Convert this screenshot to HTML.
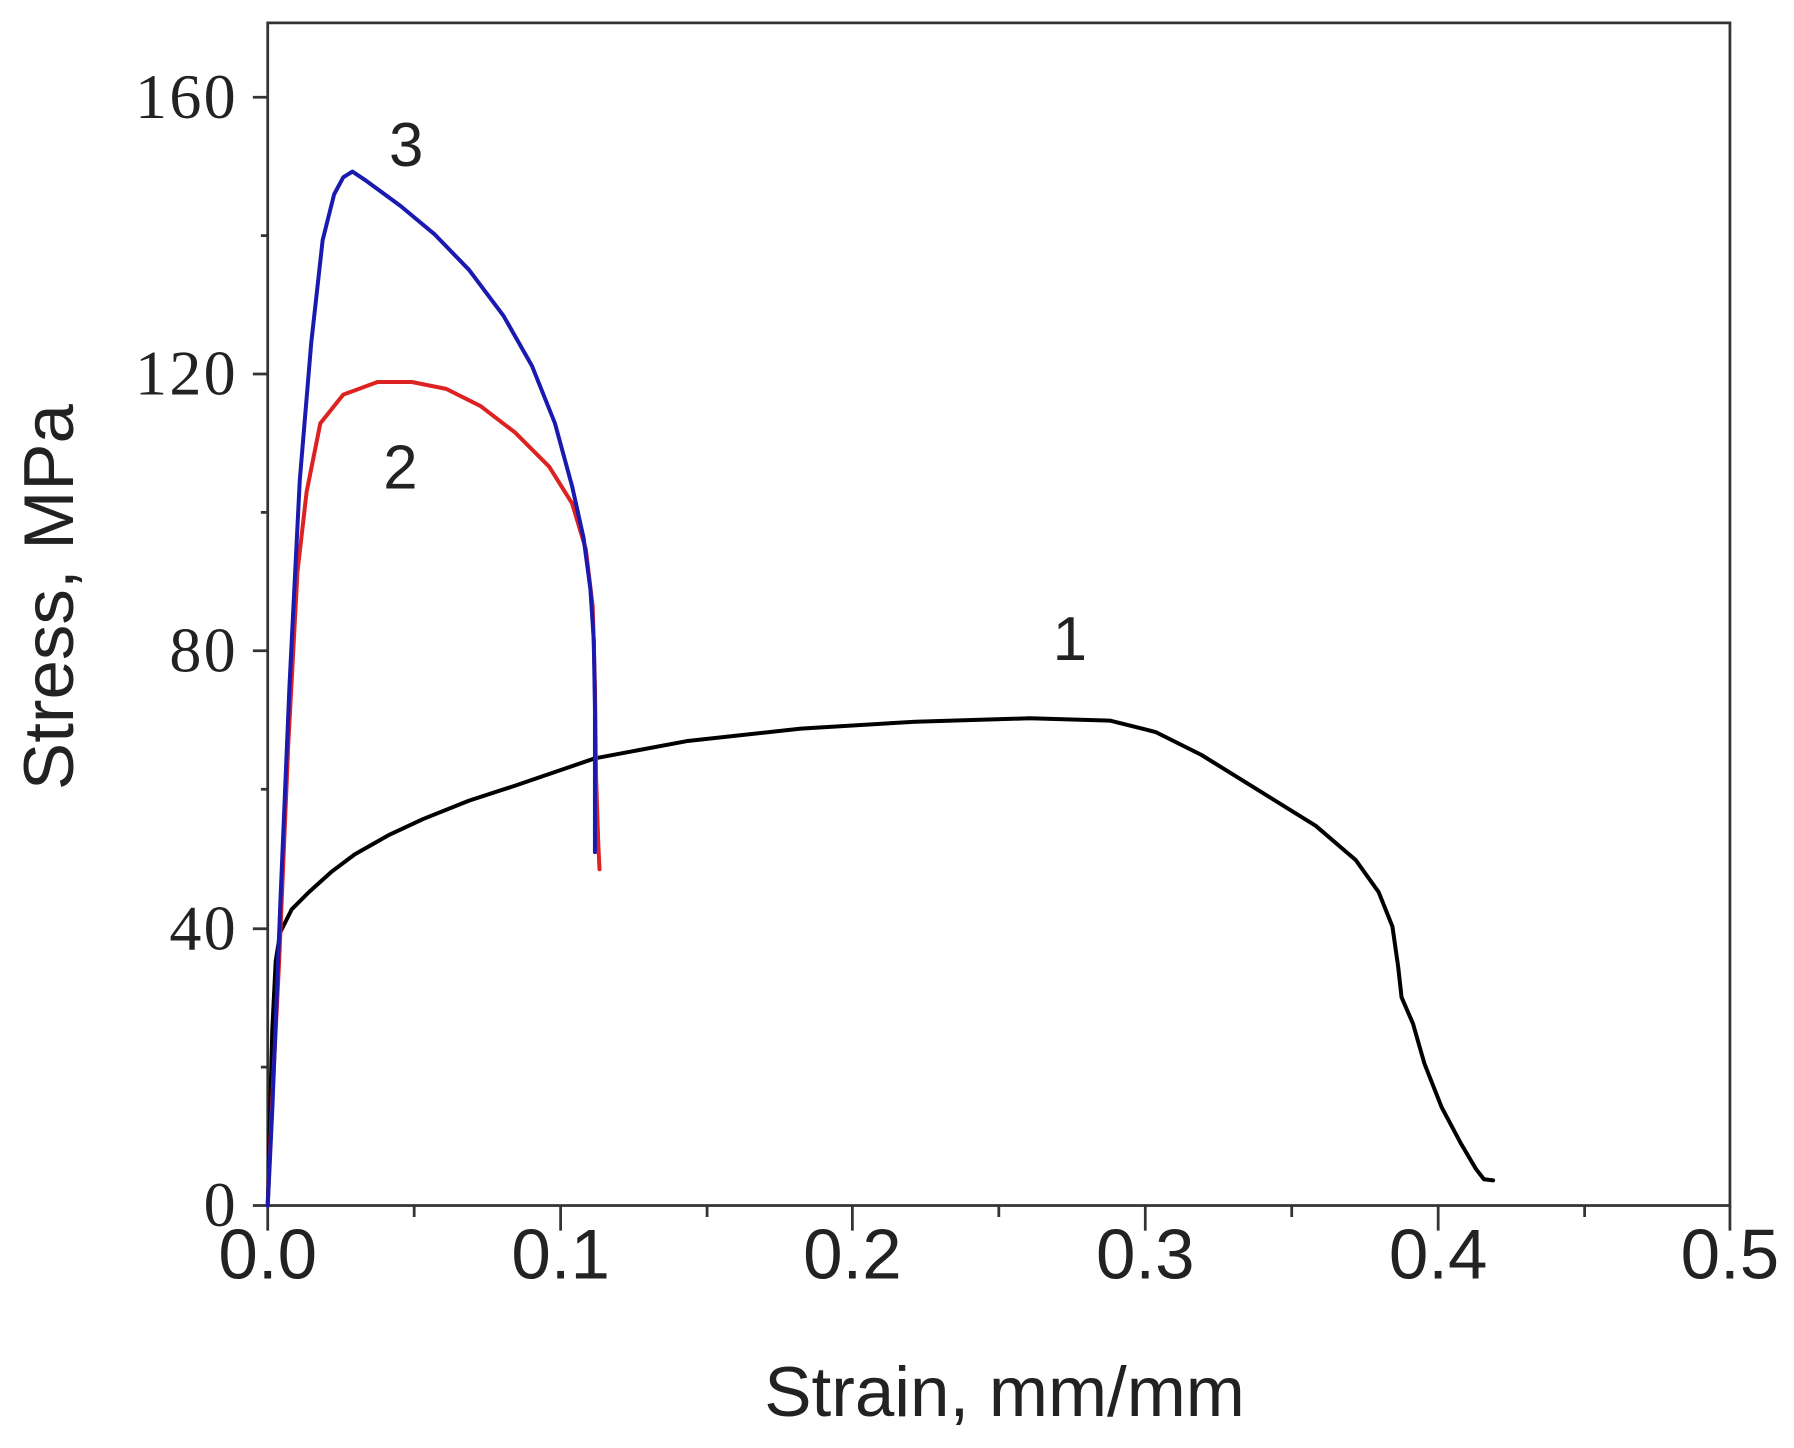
<!DOCTYPE html>
<html><head><style>html,body{margin:0;padding:0;background:#fff;}svg{display:block}</style></head>
<body>
<svg width="1794" height="1448" viewBox="0 0 1568 1266" preserveAspectRatio="none" xmlns="http://www.w3.org/2000/svg">
<rect width="1568" height="1266" fill="#fff"/>
<g stroke="#333" stroke-width="2.4" fill="none">
<rect x="234" y="20" width="1278" height="1034"/>
<path d="M234 1054v22M362 1054v10M490 1054v22M618 1054v10M745 1054v22M873 1054v10M1001 1054v22M1129 1054v10M1257 1054v22M1385 1054v10M1512 1054v22"/>
<path d="M234 1054h-13M234 933h-6M234 812h-13M234 690h-6M234 569h-13M234 448h-6M234 327h-13M234 206h-6M234 85h-13"/>
</g>
<g font-family="Liberation Serif, serif" font-size="56" fill="#222" text-anchor="end" letter-spacing="2">
<text x="208" y="1072">0</text>
<text x="208" y="830">40</text>
<text x="208" y="587">80</text>
<text x="208" y="345">120</text>
<text x="208" y="103">160</text>
</g>
<g font-family="Liberation Sans, sans-serif" font-size="62" fill="#222" text-anchor="middle">
<text x="234" y="1118">0.0</text>
<text x="490" y="1118">0.1</text>
<text x="745" y="1118">0.2</text>
<text x="1001" y="1118">0.3</text>
<text x="1257" y="1118">0.4</text>
<text x="1512" y="1118">0.5</text>
<text x="878" y="1238" font-size="62">Strain, mm/mm</text>
<text x="355" y="145" font-size="54">3</text>
<text x="350" y="427" font-size="54">2</text>
<text x="935" y="577" font-size="54">1</text>
<text transform="translate(64,522) rotate(-90)" font-size="62">Stress, MPa</text>
</g>
<g fill="none" stroke-width="3.5" stroke-linejoin="round" stroke-linecap="round">
<path stroke="#000" d="M234 1054 L238 900 L241 840 L245 815 L255 795 L270 780 L290 762 L310 747 L340 730 L370 716 L410 700 L450 687 L520 663 L600 648 L700 637 L800 631 L900 628 L970 630 L1010 640 L1050 660 L1100 691 L1150 722 L1185 752 L1205 780 L1217 810 L1222 845 L1225 872 L1235 895 L1245 930 L1260 968 L1277 1000 L1290 1022 L1297 1031 L1305 1032"/>
<path stroke="#d22" d="M234 1054 L238 960 L244 840 L252 650 L260 500 L268 430 L280 370 L300 345 L330 334 L360 334 L390 340 L420 355 L450 378 L480 408 L500 440 L512 480 L518 530 L520 600 L521 680 L523 740 L524 760"/>
<path stroke="#1a1ab0" d="M234 1054 L238 970 L245 790 L253 600 L262 420 L272 300 L282 210 L292 170 L300 155 L308 150 L320 158 L350 180 L380 205 L410 236 L440 276 L465 320 L485 370 L500 425 L510 470 L516 515 L519 560 L520 620 L520 745"/>
</g>
</svg>
</body></html>
